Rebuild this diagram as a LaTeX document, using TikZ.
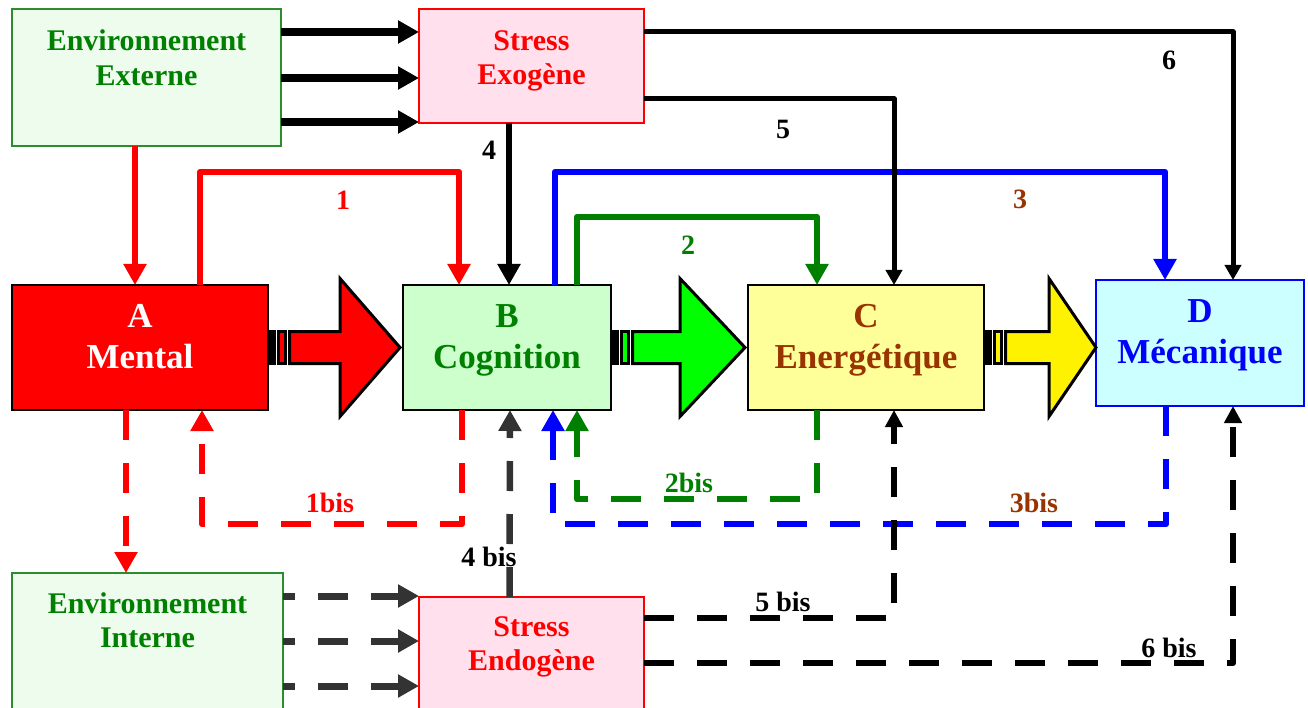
\documentclass[tikz,border=0pt]{standalone}
\usepackage{fontspec}
\setmainfont{Liberation Serif}
\usetikzlibrary{arrows.meta,calc}

\definecolor{cgreen}{HTML}{008000}
\definecolor{cbrown}{HTML}{993300}
\definecolor{envfill}{HTML}{EEFCEE}
\definecolor{envborder}{HTML}{2E8B2E}
\definecolor{stressfill}{HTML}{FFE0EC}
\definecolor{bfill}{HTML}{CCFFCC}
\definecolor{cfill}{HTML}{FFFF99}
\definecolor{dfill}{HTML}{CCFFFF}
\definecolor{dgray}{HTML}{333333}

% text block of a box: height, width, font size, line skip, first baseline, lines
\newcommand\boxtext[6]{\parbox[t][#1][t]{#2}{\fontsize{#3}{#4}\selectfont\bfseries\centering
  \vspace*{\dimexpr#5-30pt\relax}\rule{0pt}{30pt}#6}}

% striped block arrow leaving the east side of a box
\newcommand\stripedarrow[4]{%
  \fill[black] ($(#1.east)+(0,-17.5)$) rectangle ($(#1.east)+(8,17.5)$);
  \filldraw[fill=#4, draw=black, line width=3pt] ($(#1.east)+(10.5,-16)$) rectangle ($(#1.east)+(17.5,16)$);
  \filldraw[fill=#4, draw=black, line width=3pt, line join=miter]
    ($(#1.east)+(21.5,-16)$) -- ($(#1.east)+(#2,-16)$) -- ($(#1.east)+(#2,-69)$)
    -- ($(#1.east)+(#3,0)$) -- ($(#1.east)+(#2,69)$) -- ($(#1.east)+(#2,16)$)
    -- ($(#1.east)+(21.5,16)$) -- cycle;}

\tikzset{
  box/.style={draw, line width=2pt, inner sep=0pt, outer sep=0pt, anchor=north west},
  lbl/.style={font=\fontsize{28}{32}\selectfont\bfseries, inner sep=0pt},
  bigtip/.style={-{Triangle[length=21pt,width=22pt]}},
  conn/.style={line width=6.5pt, line join=round, bigtip},
  thinconn/.style={line width=5pt, line join=round, -{Triangle[length=15pt,width=16pt]}},
  dashconn/.style={line width=6.5pt, line join=round, dash pattern=on 30pt off 23pt},
}

\begin{document}
\begin{tikzpicture}[x=1pt,y=-1pt]
\path[use as bounding box] (0,0) rectangle (1308,708);
\clip (0,0) rectangle (1308,708);

% boxes
\node[box, fill=envfill, draw=envborder, text=cgreen] (EE) at (12,9)
  {\boxtext{137pt}{269pt}{30}{35}{42pt}{Environnement\\Externe}};
\node[box, fill=stressfill, draw=red, line width=1.5pt, text=red] (SX) at (419,9)
  {\boxtext{114pt}{225pt}{30}{34}{42pt}{Stress\\Exogène}};
\node[box, fill=red, draw=black, text=white] (A) at (12,285)
  {\boxtext{125pt}{256pt}{35}{41}{43pt}{A\\Mental}};
\node[box, fill=bfill, draw=black, text=cgreen] (B) at (403,285)
  {\boxtext{125pt}{208pt}{35}{41}{43pt}{B\\Cognition}};
\node[box, fill=cfill, draw=black, text=cbrown] (C) at (748,285)
  {\boxtext{125pt}{236pt}{35}{41}{43pt}{C\\Energétique}};
\node[box, fill=dfill, draw=blue, text=blue] (D) at (1096,280)
  {\boxtext{126pt}{208pt}{35}{40}{43pt}{D\\Mécanique}};
\node[box, fill=envfill, draw=envborder, text=cgreen] (EI) at (12,573)
  {\boxtext{150pt}{271pt}{30}{34}{40pt}{Environnement\\Interne}};
\node[box, fill=stressfill, draw=red, line width=1.5pt, text=red] (SN) at (419,597)
  {\boxtext{130pt}{225pt}{30}{34}{39.5pt}{Stress\\Endogène}};

% striped block arrows A -> B -> C -> D
\stripedarrow{A}{72}{132}{red}
\stripedarrow{B}{69}{134}{green}
\stripedarrow{C}{65}{112}{yellow}

% external environment -> exogenous stress
\foreach \dy in {23,69,113}
  \draw[line width=7.5pt, bigtip] ($(EE.north east)+(0,\dy)$) -- ($(SX.north west)+(0,\dy)$);

% external environment -> A
\draw[conn, red] ($(EE.south)+(-11.5,0)$) -- ($(A.north)+(-5,0)$);

% 1 : A -> B
\draw[conn, red] ($(A.north)+(60,0)$) |- ($(B.north)+(-48,-113)$) -- ($(B.north)+(-48,0)$);
% 4 : exogenous stress -> B
\draw[conn, black] ($(SX.south)+(-22.5,0)$) -- ($(B.north)+(2,0)$);
% 2 : B -> C
\draw[conn, cgreen] ($(B.north)+(70,0)$) |- ($(C.north)+(-49,-68)$) -- ($(C.north)+(-49,0)$);
% 3 : B -> D
\draw[conn, blue] ($(B.north)+(48,0)$) |- ($(D.north)+(-35,-108)$) -- ($(D.north)+(-35,0)$);
% 5 and 6 : exogenous stress -> C, D
\draw[thinconn] ($(SX.east)+(0,33)$) -| ($(C.north)+(28,0)$);
\draw[thinconn] ($(SX.east)+(0,-34)$) -| ($(D.north)+(33,0)$);

% feedback loops below
\draw[dashconn, red, bigtip] ($(A.south)+(-14,0)$) -- ($(EI.north)+(-21.5,0)$);
\draw[dashconn, red, bigtip] ($(B.south)+(-45,0)$) |- ($(A.south)+(62,114)$) -- ($(A.south)+(62,0)$);
\draw[dashconn, cgreen, bigtip] ($(C.south)+(-49,0)$) |- ($(B.south)+(70,89)$) -- ($(B.south)+(70,0)$);
\draw[dashconn, blue, bigtip] ($(D.south)+(-34,0)$) |- ($(B.south)+(46,114)$) -- ($(B.south)+(46,0)$);

% labels
\node[lbl, text=red] (l1) at (343,200) {1};
\node[lbl, text=cgreen] (l2) at (688,245) {2};
\node[lbl, text=cbrown] (l3) at (1020,199) {3};
\node[lbl] (l4) at (489,150) {4};
\node[lbl] (l5) at (783,129) {5};
\node[lbl] (l6) at (1169,60) {6};
\node[lbl, text=red] (l1b) at (330,503) {1bis};
\node[lbl, text=cgreen] (l2b) at (689,483) {2bis};
\node[lbl, text=cbrown] (l3b) at (1034,503) {3bis};
\node[lbl] (l4b) at (489,557) {4 bis};
\node[lbl] (l5b) at (783,602) {5 bis};
\node[lbl] (l6b) at (1169,648) {6 bis};

% endogenous stress paths
\draw[dashconn, dgray, line width=6.5pt, bigtip] ($(SN.north)+(-22,0)$) -- ($(B.south)+(3,0)$);
\draw[dashconn, black, -{Triangle[length=17pt,width=17pt]}] ($(SN.north east)+(0,21)$) -| ($(C.south)+(28,0)$);
\draw[dashconn, black, -{Triangle[length=17pt,width=17pt]}] ($(SN.north east)+(0,66)$) -| ($(D.south)+(33,0)$);

% internal environment -> endogenous stress
\foreach \dy in {23,68,113}
  \draw[dashconn, dgray, line width=7pt, dash phase=18pt, bigtip]
    ($(EI.north east)+(0,\dy)$) -- ($(SN.north west)+(0,\dy-24)$);
\end{tikzpicture}
\end{document}
